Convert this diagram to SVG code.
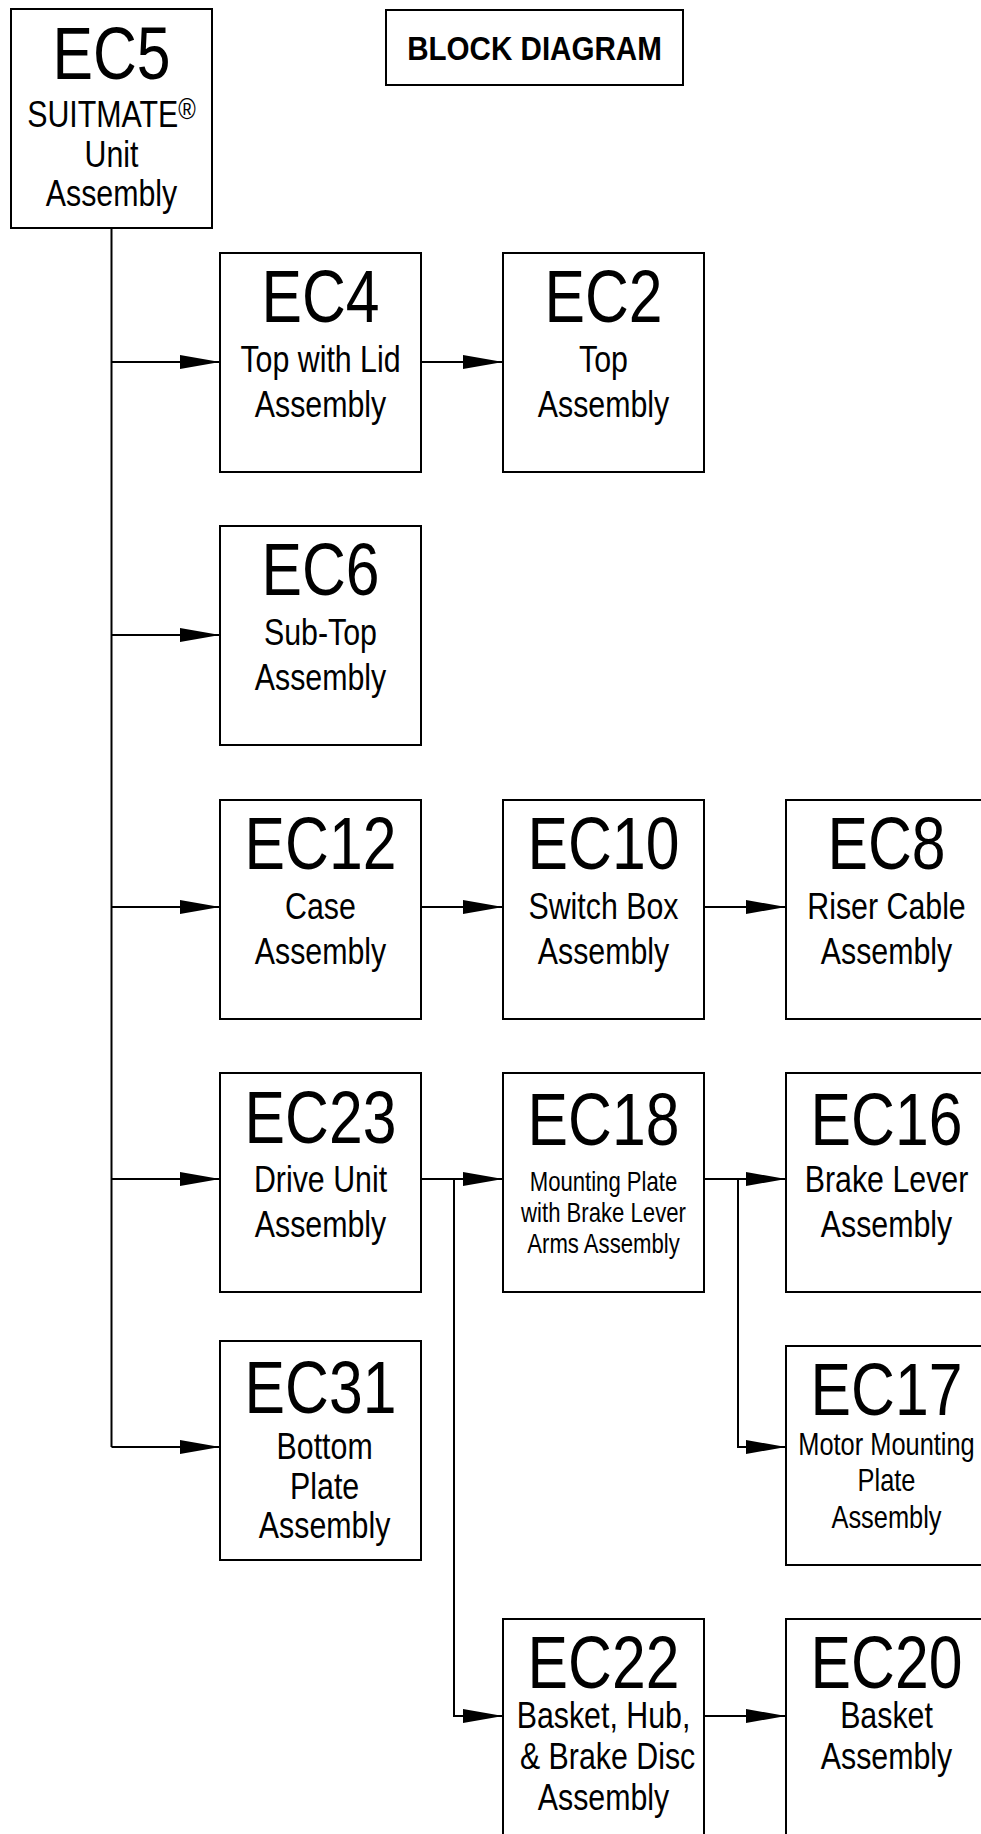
<svg xmlns="http://www.w3.org/2000/svg" width="981" height="1834" viewBox="0 0 981 1834">
<style>
.box{fill:#fff;stroke:#000;stroke-width:2}
.ln{fill:none;stroke:#000;stroke-width:2}
.t{font-family:"Liberation Sans",Arial,sans-serif;text-anchor:middle;fill:#000}
.big{font-size:74px}
.sub{font-size:37px}
.s31{font-size:31px}
.s27{font-size:27px}
.ttl{font-size:34px;font-weight:bold}
</style>
<defs>
<marker id="ah" markerUnits="userSpaceOnUse" markerWidth="40" markerHeight="14" refX="40" refY="7" orient="auto" overflow="visible">
<path d="M0,0 L40,7 L0,14 Z" fill="#000"/>
</marker>
</defs>
<rect width="981" height="1834" fill="#fff"/>

<g id="connectors">
<path class="ln" d="M111.5,228 V1447"/>
<path class="ln" d="M111.5,362 H220" marker-end="url(#ah)"/>
<path class="ln" d="M111.5,635 H220" marker-end="url(#ah)"/>
<path class="ln" d="M111.5,907 H220" marker-end="url(#ah)"/>
<path class="ln" d="M111.5,1179 H220" marker-end="url(#ah)"/>
<path class="ln" d="M111.5,1447 H220" marker-end="url(#ah)"/>
<path class="ln" d="M421,362 H503" marker-end="url(#ah)"/>
<path class="ln" d="M421,907 H503" marker-end="url(#ah)"/>
<path class="ln" d="M704,907 H786" marker-end="url(#ah)"/>
<path class="ln" d="M421,1179 H503" marker-end="url(#ah)"/>
<path class="ln" d="M454,1179 V1716 H503" marker-end="url(#ah)"/>
<path class="ln" d="M704,1179 H786" marker-end="url(#ah)"/>
<path class="ln" d="M738,1179 V1447 H786" marker-end="url(#ah)"/>
<path class="ln" d="M704,1716 H786" marker-end="url(#ah)"/>
</g>

<g id="title">
<rect class="box" x="386" y="10" width="297" height="75"/>
<text class="t ttl" transform="translate(534.5 0) scale(0.87 1)" x="0" y="60">BLOCK DIAGRAM</text>
</g>

<g id="ec5" transform="translate(111.5 9)">
<rect class="box" x="-100.5" y="0" width="201" height="219"/>
<text class="t big" transform="scale(0.82 1)" y="70">EC5</text>
<text class="t sub" transform="scale(0.82 1)" y="118">SUITMATE<tspan font-size="29" dy="-8">®</tspan></text>
<text class="t sub" transform="scale(0.82 1)" y="158">Unit</text>
<text class="t sub" transform="scale(0.82 1)" y="197">Assembly</text>
</g>

<g id="ec4" transform="translate(320.5 253)">
<rect class="box" x="-100.5" y="0" width="201" height="219"/>
<text class="t big" transform="scale(0.82 1)" y="69">EC4</text>
<text class="t sub" transform="scale(0.82 1)" y="119">Top with Lid</text>
<text class="t sub" transform="scale(0.82 1)" y="164">Assembly</text>
</g>

<g id="ec2" transform="translate(603.5 253)">
<rect class="box" x="-100.5" y="0" width="201" height="219"/>
<text class="t big" transform="scale(0.82 1)" y="69">EC2</text>
<text class="t sub" transform="scale(0.82 1)" y="119">Top</text>
<text class="t sub" transform="scale(0.82 1)" y="164">Assembly</text>
</g>

<g id="ec6" transform="translate(320.5 526)">
<rect class="box" x="-100.5" y="0" width="201" height="219"/>
<text class="t big" transform="scale(0.82 1)" y="69">EC6</text>
<text class="t sub" transform="scale(0.82 1)" y="119">Sub-Top</text>
<text class="t sub" transform="scale(0.82 1)" y="164">Assembly</text>
</g>

<g id="ec12" transform="translate(320.5 800)">
<rect class="box" x="-100.5" y="0" width="201" height="219"/>
<text class="t big" transform="scale(0.82 1)" y="69">EC12</text>
<text class="t sub" transform="scale(0.82 1)" y="119">Case</text>
<text class="t sub" transform="scale(0.82 1)" y="164">Assembly</text>
</g>

<g id="ec10" transform="translate(603.5 800)">
<rect class="box" x="-100.5" y="0" width="201" height="219"/>
<text class="t big" transform="scale(0.82 1)" y="69">EC10</text>
<text class="t sub" transform="scale(0.82 1)" y="119">Switch Box</text>
<text class="t sub" transform="scale(0.82 1)" y="164">Assembly</text>
</g>

<g id="ec8" transform="translate(886.5 800)">
<rect class="box" x="-100.5" y="0" width="201" height="219"/>
<text class="t big" transform="scale(0.82 1)" y="69">EC8</text>
<text class="t sub" transform="scale(0.82 1)" y="119">Riser Cable</text>
<text class="t sub" transform="scale(0.82 1)" y="164">Assembly</text>
</g>

<g id="ec23" transform="translate(320.5 1073)">
<rect class="box" x="-100.5" y="0" width="201" height="219"/>
<text class="t big" transform="scale(0.82 1)" y="70">EC23</text>
<text class="t sub" transform="scale(0.82 1)" y="119">Drive Unit</text>
<text class="t sub" transform="scale(0.82 1)" y="164">Assembly</text>
</g>

<g id="ec18" transform="translate(603.5 1073)">
<rect class="box" x="-100.5" y="0" width="201" height="219"/>
<text class="t big" transform="scale(0.82 1)" y="72">EC18</text>
<text class="t s27" transform="scale(0.82 1)" y="118">Mounting Plate</text>
<text class="t s27" transform="scale(0.82 1)" y="149">with Brake Lever</text>
<text class="t s27" transform="scale(0.82 1)" y="180">Arms Assembly</text>
</g>

<g id="ec16" transform="translate(886.5 1073)">
<rect class="box" x="-100.5" y="0" width="201" height="219"/>
<text class="t big" transform="scale(0.82 1)" y="72">EC16</text>
<text class="t sub" transform="scale(0.82 1)" y="119">Brake Lever</text>
<text class="t sub" transform="scale(0.82 1)" y="164">Assembly</text>
</g>

<g id="ec31" transform="translate(320.5 1341)">
<rect class="box" x="-100.5" y="0" width="201" height="219"/>
<text class="t big" transform="scale(0.82 1)" y="72">EC31</text>
<text class="t sub" transform="scale(0.82 1)" x="5" y="118">Bottom</text>
<text class="t sub" transform="scale(0.82 1)" x="5" y="158">Plate</text>
<text class="t sub" transform="scale(0.82 1)" x="5" y="197">Assembly</text>
</g>

<g id="ec17" transform="translate(886.5 1346)">
<rect class="box" x="-100.5" y="0" width="201" height="219"/>
<text class="t big" transform="scale(0.82 1)" y="69">EC17</text>
<text class="t s31" transform="scale(0.82 1)" y="109">Motor Mounting</text>
<text class="t s31" transform="scale(0.82 1)" y="145">Plate</text>
<text class="t s31" transform="scale(0.82 1)" y="182">Assembly</text>
</g>

<g id="ec22" transform="translate(603.5 1619)">
<rect class="box" x="-100.5" y="0" width="201" height="219"/>
<text class="t big" transform="scale(0.82 1)" y="69">EC22</text>
<text class="t sub" transform="scale(0.82 1)" y="109">Basket, Hub,</text>
<text class="t sub" transform="scale(0.82 1)" x="5" y="150">&amp; Brake Disc</text>
<text class="t sub" transform="scale(0.82 1)" y="191">Assembly</text>
</g>

<g id="ec20" transform="translate(886.5 1619)">
<rect class="box" x="-100.5" y="0" width="201" height="219"/>
<text class="t big" transform="scale(0.82 1)" y="69">EC20</text>
<text class="t sub" transform="scale(0.82 1)" y="109">Basket</text>
<text class="t sub" transform="scale(0.82 1)" y="150">Assembly</text>
</g>
</svg>
